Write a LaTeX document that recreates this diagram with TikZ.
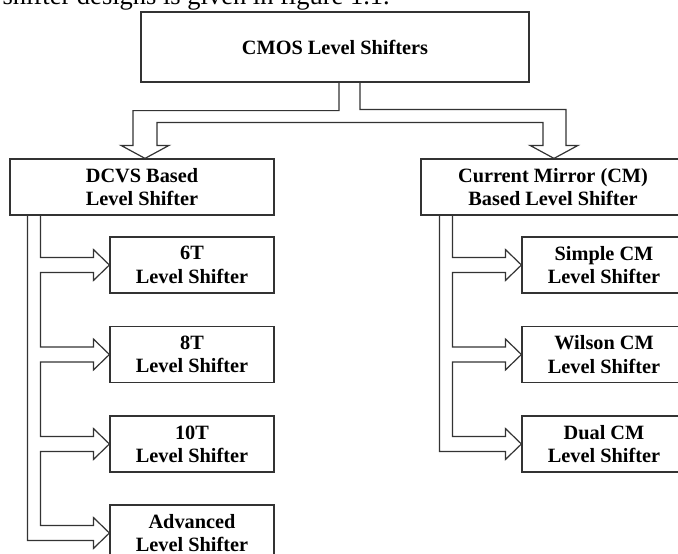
\documentclass[tikz,border=0pt]{standalone}
\usepackage{fontspec}
\setmainfont{Liberation Serif}
\usetikzlibrary{calc}

\newcommand{\headto}[1]{-- ++(0,-8) -- (#1.west) -- ++(-16,15.5) -- ++(0,-8)}

\begin{document}
\begin{tikzpicture}[x = 1pt, y = 1pt,
        lsbox/.style = {draw = black!80, line width = 1.2pt, inner sep = 0pt, align = center,
            font = \fontsize{20.3}{23.3}\selectfont\bfseries},
        mainbox/.style = {lsbox, minimum width = 264pt, minimum height = 56pt},
        subbox/.style = {lsbox, minimum width = 164pt, minimum height = 56pt},
        pipe/.style = {draw = black!80, line width = 1.2pt}]
        \useasboundingbox (0,0) rectangle (678,-554);
        \clip (0,0) rectangle (678,-554);
        \node[anchor = base east, inner sep = 0pt, font = \fontsize{26.5}{30}\selectfont] (caption) at (390,-5) {shifter designs is given in figure 1.1.};
        \node[lsbox, minimum width = 388pt, minimum height = 70pt] (shifters) at (335,-47) {CMOS Level Shifters};
        \node[mainbox] (dcvs) at (142,-187) {DCVS Based\\Level Shifter};
        \node[mainbox] (cm) at (553,-187) {Current Mirror (CM)\\Based Level Shifter};
        \node[subbox] (six) at (192,-265) {6T\\Level Shifter};
        \node[subbox] (eight) at (192,-354.5) {8T\\Level Shifter};
        \node[subbox] (ten) at (192,-444) {10T\\Level Shifter};
        \node[subbox] (adv) at (192,-533) {Advanced\\Level Shifter};
        \node[subbox] (simple) at (604,-265) {Simple CM\\Level Shifter};
        \node[subbox] (wilson) at (604,-354.5) {Wilson CM\\Level Shifter};
        \node[subbox] (dual) at (604,-444) {Dual CM\\Level Shifter};
        \coordinate (ltip) at ([xshift = 3pt]dcvs.north);
        \coordinate (rtip) at ([xshift = 1pt]cm.north);
        \coordinate (dout) at ([xshift = 18pt]dcvs.south west);
        \coordinate (din) at ([xshift = 31pt]dcvs.south west);
        \coordinate (cout) at ([xshift = 19pt]cm.south west);
        \coordinate (cin) at ([xshift = 32pt]cm.south west);
        \draw[pipe] ([xshift = 4pt]shifters.south) -- ++(0,-28) -| ($(ltip)+(-12,13)$) -- ++(-12,0) -- (ltip) -- ++(24,13) -- ++(-12,0)
            -- ++(0,23) -| ($(rtip)+(-11,13)$) -- ++(-13,0) -- (rtip) -- ++(24,13) -- ++(-12,0) -- ++(0,36) -| ([xshift = 25pt]shifters.south);
        \draw[pipe] (dout) |- ($(adv.west)+(-16,-7.5)$) \headto{adv}
            -- ++(-53,0) |- ($(ten.west)+(-16,-7.5)$) \headto{ten}
            -- ++(-53,0) |- ($(eight.west)+(-16,-7.5)$) \headto{eight}
            -- ++(-53,0) |- ($(six.west)+(-16,-7.5)$) \headto{six} -| (din);
        \draw[pipe] (cout) |- ($(dual.west)+(-16,-7.5)$) \headto{dual}
            -- ++(-53,0) |- ($(wilson.west)+(-16,-7.5)$) \headto{wilson}
            -- ++(-53,0) |- ($(simple.west)+(-16,-7.5)$) \headto{simple} -| (cin);
    \end{tikzpicture}
\end{document}
